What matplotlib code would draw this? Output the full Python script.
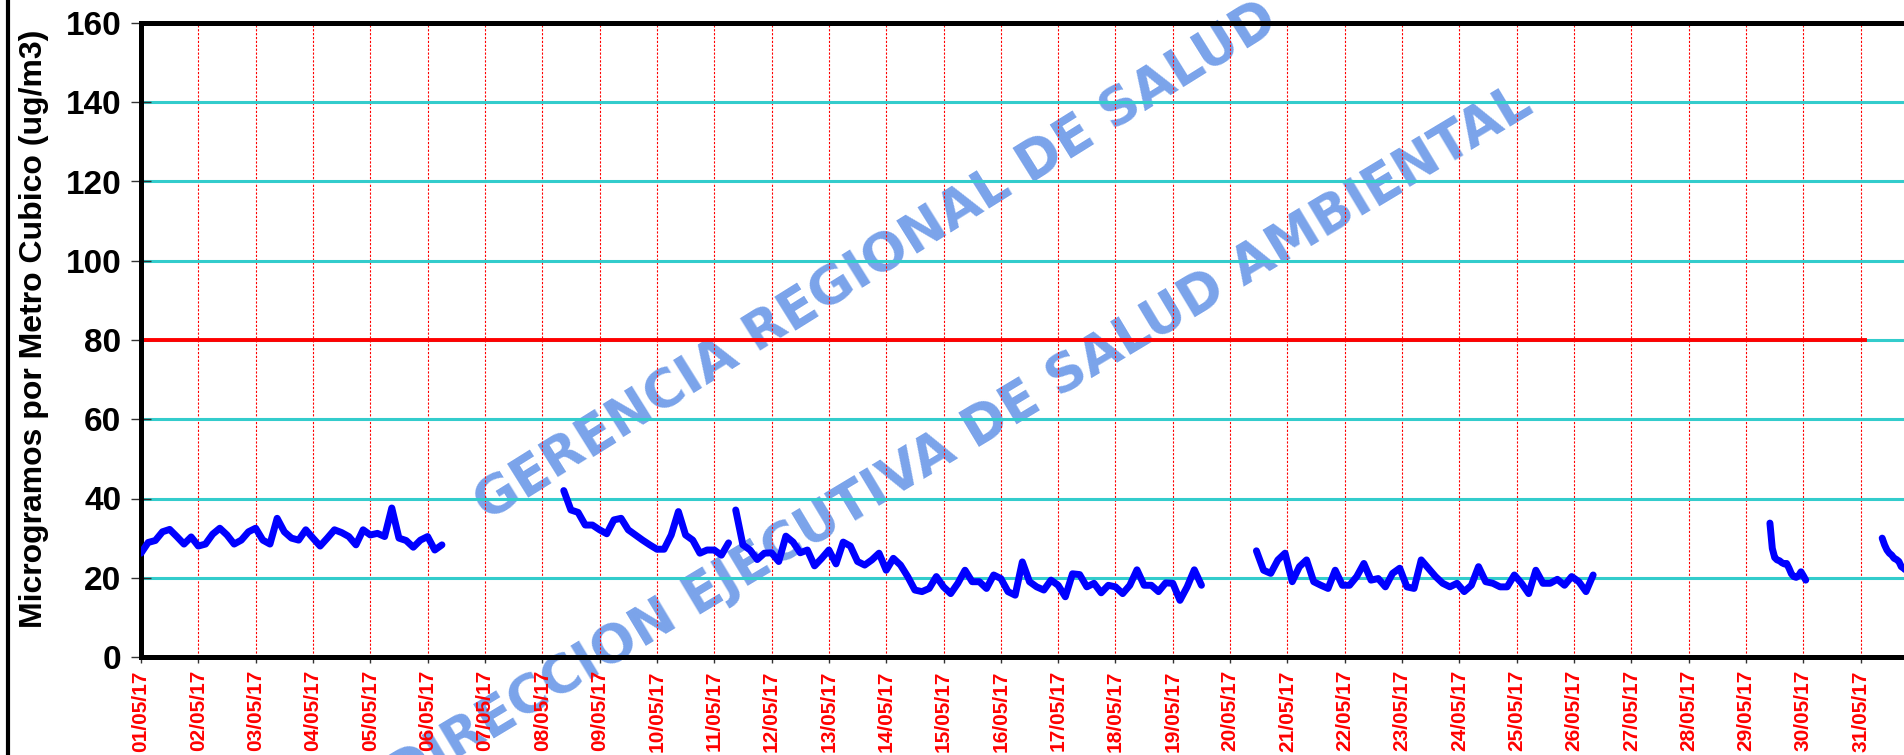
import numpy as np
import matplotlib
matplotlib.use('Agg')
import matplotlib.pyplot as plt

plt.rcParams['font.family'] = ['Liberation Sans', 'DejaVu Sans']

# one tick per day, May 2017
dias = [f"{d:02d}/05/17" for d in range(1, 32)]
y_ticks = [0, 20, 40, 60, 80, 100, 120, 140, 160]

# readings (ug/m3), each piece: start hour, step in hours, values
tramo1_inicio, tramo1_paso = 0, 3
tramo1 = [26.2, 28.9, 29.4, 31.6, 32.2, 30.4, 28.5, 30.3, 28.0, 28.5, 31.0, 32.5,
          30.8, 28.5, 29.5, 31.6, 32.5, 29.5, 28.5, 35.0, 31.6, 30.0, 29.5, 32.1,
          30.0, 28.0, 30.0, 32.1, 31.4, 30.4, 28.3, 32.1, 30.8, 31.2, 30.4, 37.6,
          30.0, 29.4, 27.7, 29.5, 30.4, 27.0, 28.3]

tramo2_inicio, tramo2_paso = 177, 3
tramo2 = [42.0, 37.1, 36.5, 33.3, 33.3, 32.1, 31.1, 34.6, 35.0, 32.1, 30.8, 29.5,
          28.3, 27.2, 27.2, 30.8, 36.7, 30.8, 29.5, 26.2, 27.0, 27.0, 25.7, 28.8]

tramo3_inicio, tramo3_paso = 249, 3
tramo3 = [37.1, 28.3, 27.0, 24.6, 26.2, 26.3, 24.1, 30.5, 29.0, 26.3, 27.0, 23.0,
          24.9, 27.0, 23.5, 29.0, 28.0, 24.1, 23.2, 24.5, 26.2, 21.9, 24.9, 23.2,
          20.3, 16.9, 16.5, 17.3, 20.3, 17.7, 16.0, 18.6, 21.9, 19.0, 19.0, 17.3,
          20.7, 19.8, 16.5, 15.6, 24.0, 19.0, 17.7, 16.9, 19.4, 18.1, 15.2, 21.0,
          20.8, 17.7, 18.6, 16.2, 18.1, 17.7, 16.0, 18.1, 22.0, 18.1, 18.1, 16.5,
          18.7, 18.6, 14.3, 17.7, 22.0, 18.1]

tramo4_inicio, tramo4_paso = 467, 3
tramo4 = [26.8, 21.9, 21.1, 24.5, 26.2, 19.0, 22.8, 24.5, 19.0, 18.1, 17.3, 21.9,
          18.1, 18.1, 20.3, 23.6, 19.4, 19.8, 17.7, 21.1, 22.4, 17.7, 17.3, 24.5,
          22.4, 20.3, 18.6, 17.7, 18.6, 16.5, 18.1, 22.8, 19.0, 18.6, 17.7, 17.7,
          20.7, 18.6, 16.0, 21.9, 18.6, 18.6, 19.6, 18.1, 20.3, 19.0, 16.5, 20.7]

tramo5_inicio, tramo5_paso = 682, 1
tramo5 = [33.8, 27.4, 25.1, 24.5, 24.3, 23.8, 23.5, 23.6, 22.4, 21.0, 20.3, 20.1,
          20.5, 21.5, 20.5, 19.4]

tramo6_inicio, tramo6_paso = 729, 1
tramo6 = [30.0, 28.3, 27.0, 26.2, 25.7, 24.9, 24.6, 24.1, 22.8, 22.4, 21.8]

# limit value (ECA) line
limite_horas = [0, 722]
limite_valor = [80, 80]

tramos = [(tramo1_inicio, tramo1_paso, tramo1), (tramo2_inicio, tramo2_paso, tramo2),
          (tramo3_inicio, tramo3_paso, tramo3), (tramo4_inicio, tramo4_paso, tramo4),
          (tramo5_inicio, tramo5_paso, tramo5), (tramo6_inicio, tramo6_paso, tramo6)]

fig = plt.figure(figsize=(19.04, 7.55), dpi=100)
fig.patch.set_facecolor('white')
# the chart runs past the right edge of the picture
ax = fig.add_axes([141 / 1904, 98 / 755, 1777 / 1904, 634 / 755])
ax.set_facecolor('none')

# watermark behind everything
fig.text(876 / 1904, 1 - 262 / 755, 'GERENCIA REGIONAL DE SALUD', rotation=32,
         rotation_mode='anchor', ha='center', va='center', fontsize=38,
         fontweight='bold', color='#7aa3ea', zorder=-1, family='DejaVu Sans')
fig.text(960 / 1904, 1 - 440 / 755, 'DIRECCION EJECUTIVA DE SALUD AMBIENTAL', rotation=31,
         rotation_mode='anchor', ha='center', va='center', fontsize=38,
         fontweight='bold', color='#7aa3ea', zorder=-1, family='DejaVu Sans')

for inicio, paso, valores in tramos:
    horas = inicio + paso * np.arange(len(valores))
    ax.plot(horas / 24, valores, color='#0000FF', linewidth=5,
            solid_capstyle='round', solid_joinstyle='round', zorder=3)

ax.plot(np.array(limite_horas) / 24, limite_valor, color='#FF0000', linewidth=2.8, zorder=2.5)

ax.set_xlim(0, 31)
ax.set_ylim(0, 160)
ax.set_yticks(y_ticks)
ax.set_xticks(range(31))
ax.set_xticklabels(dias, rotation=90, color='#FF0000', fontsize=15, fontweight='bold')
plt.setp(ax.get_yticklabels(), fontsize=24, fontweight='bold')

ax.yaxis.grid(True, color='#33CCCC', linewidth=2.2)
ax.xaxis.grid(True, color='#FF0000', linewidth=0.8, linestyle=(0, (2, 1.5)))

ax.tick_params(axis='y', direction='inout', length=14.4, width=1, color='#333333', pad=7)
ax.tick_params(axis='x', direction='out', length=4.5, width=1, color='#333333', pad=5)

for s in ax.spines.values():
    s.set_linewidth(3.6)
    s.set_color('black')

ax.set_ylabel('Microgramos por Metro Cubico (ug/m3)', fontsize=23, fontweight='bold')
ax.yaxis.set_label_coords((49 - 141) / 1777, (657 - 329) / 634)

# frame line on the left edge of the picture
fig.add_artist(plt.Line2D([8 / 1904, 8 / 1904], [0, 1], transform=fig.transFigure,
                          color='black', linewidth=3))

fig.savefig('out.png', dpi=100)
